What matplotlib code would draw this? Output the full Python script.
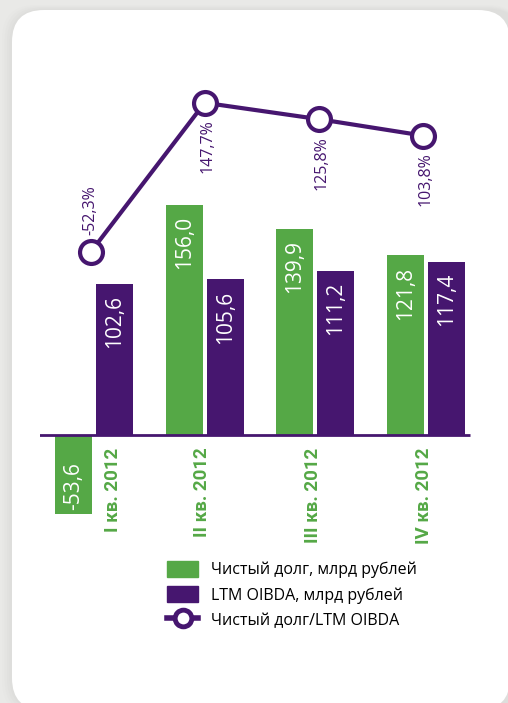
import matplotlib.pyplot as plt
from matplotlib.patches import FancyBboxPatch, Patch
from matplotlib.lines import Line2D
from matplotlib import font_manager

# Данные
quarters = ['I кв. 2012', 'II кв. 2012', 'III кв. 2012', 'IV кв. 2012']
net_debt = [-53.6, 156.0, 139.9, 121.8]
oibda = [102.6, 105.6, 111.2, 117.4]
ratio = [-52.3, 147.7, 125.8, 103.8]

GREEN = '#55a846'
PURPLE = '#46166f'
BG = '#e9e9e7'

names = {f.name for f in font_manager.fontManager.ttflist}
FONT = 'Open Sans' if 'Open Sans' in names else 'DejaVu Sans'
CAT_FONT = 'Roboto' if 'Roboto' in names else FONT
plt.rcParams['font.family'] = [FONT, 'DejaVu Sans']

W, H = 508, 703
fig = plt.figure(figsize=(W / 100, H / 100), dpi=100)
fig.patch.set_facecolor(BG)

# фон: белая панель со скруглёнными углами и тенью
bg = fig.add_axes([0, 0, 1, 1])
bg.set_xlim(0, W)
bg.set_ylim(H, 0)
bg.axis('off')
for i, a in enumerate([0.03, 0.04, 0.05, 0.06]):
    s = 10 - 2.5 * i
    bg.add_patch(FancyBboxPatch((12 - s, 10 - s * 0.5), 510 + s, 700 + s,
                                boxstyle='round,pad=0,rounding_size=34',
                                fc='#b0b0b0', ec='none', alpha=a))
bg.add_patch(FancyBboxPatch((12, 10), 498, 700,
                            boxstyle='round,pad=0,rounding_size=32',
                            fc='white', ec='none'))

# основная область графика (пиксели 40..480 по x, 60..540 по y)
ax = fig.add_axes([40 / W, 1 - 540 / H, 440 / W, 480 / H])
ax.patch.set_alpha(0)
ax.set_xlim(-0.488, 3.487)
ax.set_ylim(-71.2, 254.4)
ax.axis('off')

x = range(len(quarters))
w = 0.335
off = 0.185
gb = ax.bar([i - off for i in x], net_debt, width=w, color=GREEN, zorder=2)
pb = ax.bar([i + off for i in x], oibda, width=w, color=PURPLE, zorder=2)
ax.plot([-0.488 - 0.01, 3.40], [0, 0], color=PURPLE, lw=2, zorder=3,
        solid_capstyle='butt')

for bars, vals in [(gb, net_debt), (pb, oibda)]:
    for b, v in zip(bars, vals):
        cx = b.get_x() + b.get_width() / 2
        txt = f'{v:.1f}'.replace('.', ',')
        if v >= 0:
            ax.annotate(txt, (cx, v), xytext=(0, -8), textcoords='offset points',
                        rotation=90, ha='center', va='top', color='white',
                        fontsize=15, zorder=4)
        else:
            ax.annotate(txt, (cx, v), xytext=(0, 3), textcoords='offset points',
                        rotation=90, ha='center', va='bottom', color='white',
                        fontsize=15, zorder=4)

for i, q in enumerate(quarters):
    lx = i + (0.17 if net_debt[i] < 0 else -0.02)
    ax.annotate(q, (lx, 0), xytext=(0, -9), textcoords='offset points',
                rotation=90, ha='center', va='top', color=GREEN,
                fontsize=13.5, fontweight='bold', family=CAT_FONT)

# линия отношения
ax2 = fig.add_axes(ax.get_position())
ax2.patch.set_alpha(0)
ax2.set_xlim(ax.get_xlim())
ax2.set_ylim(-438.0, 205.0)
ax2.axis('off')
lx = [-0.03, 0.0, 0.03, -0.03]
ax2.plot([i + d for i, d in zip(x, lx)], ratio, color=PURPLE, lw=3,
         marker='o', ms=16.5, mfc='white', mec=PURPLE, mew=3, zorder=5)
for i, v in enumerate(ratio):
    txt = f'{v:.1f}%'.replace('.', ',')
    if i == 0:
        ax2.annotate(txt, (i + lx[i], v), xytext=(0, 12), textcoords='offset points',
                     rotation=90, ha='center', va='bottom', color=PURPLE, fontsize=11.5)
    else:
        ax2.annotate(txt, (i + lx[i], v), xytext=(2, -12), textcoords='offset points',
                     rotation=90, ha='center', va='top', color=PURPLE, fontsize=11.5)

handles = [Patch(color=GREEN), Patch(color=PURPLE),
           Line2D([0], [0], color=PURPLE, lw=4, marker='o', ms=12,
                  mfc='white', mec=PURPLE, mew=3.5)]
labels = ['Чистый долг, млрд рублей', 'LTM OIBDA, млрд рублей',
          'Чистый долг/LTM OIBDA']
fig.legend(handles, labels, loc='upper left', bbox_to_anchor=(153 / W, 1 - 547 / H),
           frameon=False, fontsize=11.5, handlelength=1.9, handleheight=1.1,
           labelspacing=0.5, handletextpad=0.85)

fig.savefig('out.png', dpi=100, facecolor=BG)
